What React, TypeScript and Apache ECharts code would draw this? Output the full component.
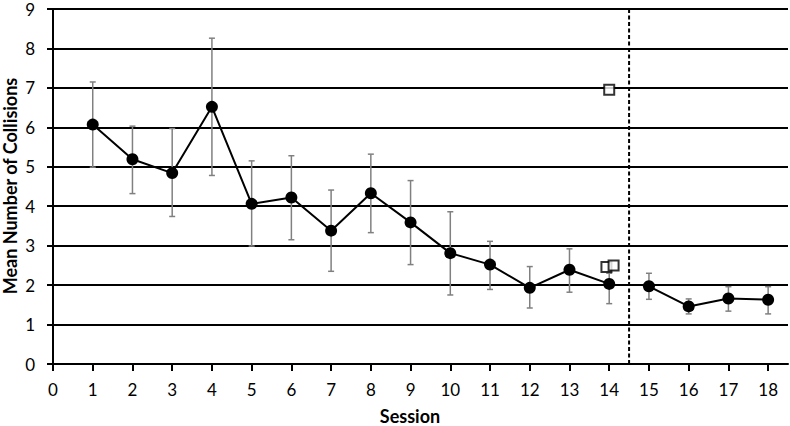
import React, { useEffect, useRef } from "react";
import * as echarts from "echarts";

const sessions = [1, 2, 3, 4, 5, 6, 7, 8, 9, 10, 11, 12, 13, 14, 15, 16, 17, 18];
const means = [6.07, 5.19, 4.84, 6.52, 4.06, 4.22, 3.38, 4.33, 3.59, 2.81, 2.52, 1.93, 2.39, 2.03, 1.97, 1.46, 1.66, 1.63];
const upper = [7.15, 6.03, 5.97, 8.26, 5.15, 5.28, 4.41, 5.32, 4.65, 3.86, 3.11, 2.47, 2.92, 2.3, 2.3, 1.65, 1.96, 1.96];
const lower = [4.99, 4.32, 3.74, 4.78, 2.99, 3.15, 2.35, 3.33, 2.52, 1.75, 1.89, 1.42, 1.82, 1.53, 1.64, 1.27, 1.34, 1.27];
const squaresX = [14.0, 13.93, 14.11];
const squaresY = [6.95, 2.46, 2.5];
const phaseBreak = 14.5;
const xTicks = [0, 1, 2, 3, 4, 5, 6, 7, 8, 9, 10, 11, 12, 13, 14, 15, 16, 17, 18];

const FONT = "Lato, 'Open Sans', sans-serif";

export default function App() {
  const ref = useRef<HTMLDivElement>(null);
  useEffect(() => {
    if (!ref.current) return;
    document.body.style.margin = "0";
    const chart = echarts.init(ref.current, undefined, { renderer: "svg" });
    const phase1 = sessions.map((s, i) => [s, means[i]]).filter((d) => d[0] < phaseBreak);
    const phase2 = sessions.map((s, i) => [s, means[i]]).filter((d) => d[0] > phaseBreak);
    const errData = sessions.map((s, i) => [s, lower[i], upper[i]]);
    chart.setOption({
      animation: false,
      grid: { left: 53, right: 2, top: 9, bottom: 62 },
      xAxis: {
        type: "value",
        min: 0,
        max: 18.5,
        interval: 1,
        axisLine: { show: true, onZero: false, lineStyle: { color: "#000", width: 2 } },
        axisTick: { show: true, length: 7, customValues: xTicks, lineStyle: { color: "#000", width: 2 } },
        axisLabel: { customValues: xTicks, color: "#000", fontSize: 17, fontFamily: FONT, margin: 17 },
        splitLine: { show: false },
      },
      yAxis: {
        type: "value",
        min: 0,
        max: 9,
        interval: 1,
        axisLine: { show: true, lineStyle: { color: "#000", width: 2 } },
        axisTick: { show: true, length: 6, lineStyle: { color: "#000", width: 2 } },
        axisLabel: { color: "#000", fontSize: 17, lineHeight: 14, fontFamily: FONT, margin: 18 },
        splitLine: { show: true, lineStyle: { color: "#000", width: 2 } },
      },
      graphic: [
        {
          type: "text",
          x: 410,
          y: 407,
          style: {
            text: "Session",
            fontSize: 18,
            lineHeight: 18,
            fontWeight: "bold",
            fontFamily: FONT,
            fill: "#000",
            align: "center",
            verticalAlign: "top",
          },
        },
        {
          type: "text",
          x: 1,
          y: 186,
          rotation: Math.PI / 2,
          style: {
            text: "Mean Number of Collisions",
            fontSize: 18,
            fontWeight: "bold",
            fontFamily: FONT,
            fill: "#000",
            align: "center",
            verticalAlign: "top",
          },
        },
      ],
      series: [
        {
          type: "line",
          data: [[phaseBreak, 0], [phaseBreak, 9]],
          symbol: "none",
          lineStyle: { color: "#000", width: 2, type: [4, 2.5] },
          z: 1,
        },
        {
          type: "custom",
          data: errData,
          z: 2,
          renderItem: (params: any, api: any) => {
            const x = api.value(0);
            const lo = api.coord([x, api.value(1)]);
            const hi = api.coord([x, api.value(2)]);
            const cap = 3;
            const style = { stroke: "#808080", lineWidth: 1.5 };
            return {
              type: "group",
              children: [
                { type: "line", shape: { x1: lo[0], y1: lo[1], x2: hi[0], y2: hi[1] }, style },
                { type: "line", shape: { x1: hi[0] - cap, y1: hi[1], x2: hi[0] + cap, y2: hi[1] }, style },
                { type: "line", shape: { x1: lo[0] - cap, y1: lo[1], x2: lo[0] + cap, y2: lo[1] }, style },
              ],
            };
          },
        },
        {
          type: "line",
          data: phase1,
          symbol: "circle",
          symbolSize: 12,
          itemStyle: { color: "#000" },
          lineStyle: { color: "#000", width: 2 },
          z: 3,
        },
        {
          type: "line",
          data: phase2,
          symbol: "circle",
          symbolSize: 12,
          itemStyle: { color: "#000" },
          lineStyle: { color: "#000", width: 2 },
          z: 3,
        },
        {
          type: "scatter",
          data: squaresX.map((x, i) => [x, squaresY[i]]),
          symbol: "rect",
          symbolSize: 10,
          itemStyle: { color: "#fff", borderColor: "#000", borderWidth: 2 },
          z: 4,
        },
      ],
    });
    return () => chart.dispose();
  }, []);
  return <div ref={ref} style={{ width: 790, height: 426 }} />;
}
